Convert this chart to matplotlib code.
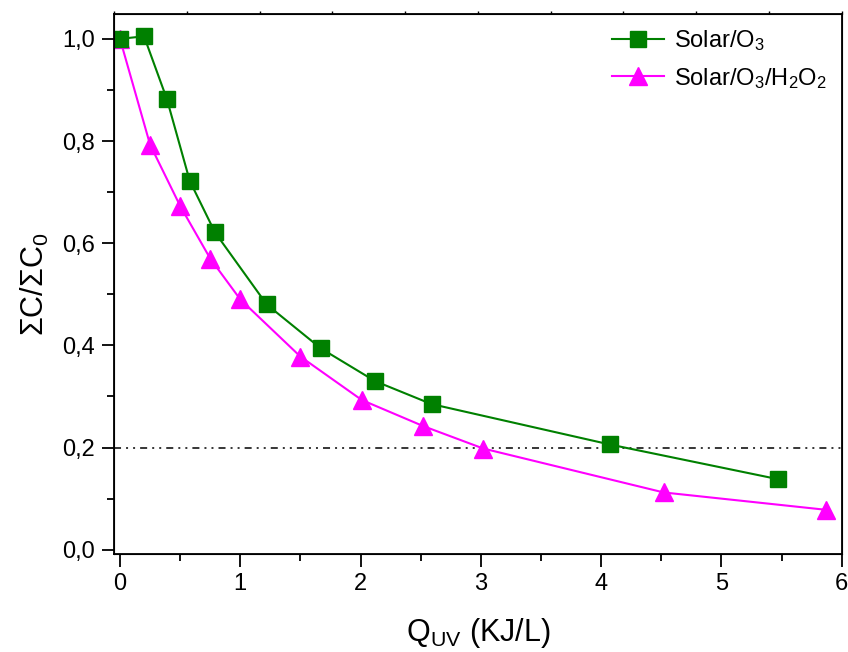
import numpy as np
import matplotlib
matplotlib.use('Agg')
import matplotlib.pyplot as plt
from matplotlib.ticker import MultipleLocator

plt.rcParams['font.family'] = ['Liberation Sans', 'DejaVu Sans']
plt.rcParams['mathtext.fontset'] = 'custom'
plt.rcParams['mathtext.rm'] = 'Liberation Sans'
plt.rcParams['mathtext.it'] = 'Liberation Sans:italic'

# data
q_o3 = [0.0, 0.20, 0.39, 0.58, 0.79, 1.22, 1.67, 2.12, 2.59, 4.07, 5.47]
c_o3 = [1.0, 1.005, 0.882, 0.722, 0.621, 0.480, 0.394, 0.330, 0.285, 0.206, 0.138]
q_h2o2 = [0.0, 0.25, 0.50, 0.75, 1.00, 1.50, 2.01, 2.52, 3.02, 4.52, 5.87]
c_h2o2 = [1.0, 0.793, 0.673, 0.570, 0.490, 0.378, 0.293, 0.242, 0.198, 0.112, 0.078]
target = 0.2

fig = plt.figure(figsize=(8.48, 6.52), dpi=100)
ax = fig.add_axes([0.1344, 0.1503, 0.8582, 0.8277])

ax.axhline(target, color='k', lw=1.1, ls=(0, (4.6, 3.3, 1.3, 3.3, 1.3, 3.3)), zorder=1)
ax.plot(q_o3, c_o3, color='#008000', lw=1.5, marker='s', ms=11,
        label=r'Solar/O$_3$', zorder=3)
ax.plot(q_h2o2, c_h2o2, color='#FF00FF', lw=1.5, marker='^', ms=13,
        label=r'Solar/O$_3$/H$_2$O$_2$', zorder=2)

ax.set_xlim(-0.05, 6.0)
ax.set_ylim(-0.0085, 1.048)
ax.xaxis.set_major_locator(MultipleLocator(1))
ax.xaxis.set_minor_locator(MultipleLocator(0.5))
ax.yaxis.set_major_locator(MultipleLocator(0.2))
ax.yaxis.set_minor_locator(MultipleLocator(0.1))
ax.yaxis.set_major_formatter(plt.FuncFormatter(lambda v, p: ('%.1f' % v).replace('.', ',')))
ax.tick_params(which='major', direction='out', length=9, width=1.3, labelsize=17, pad=5)
ax.tick_params(which='minor', direction='out', length=5, width=1.3)
for s in ax.spines.values():
    s.set_linewidth(1.3)

# top axis ticks (unlabelled)
top = ax.twiny()
top.set_xlim(0, 10)
top.xaxis.set_major_locator(MultipleLocator(1))
top.tick_params(axis='x', direction='out', length=2.5, width=1, labeltop=False)

ax.set_xlabel(r'Q$_{\rm UV}$ (KJ/L)', fontsize=22, labelpad=15)
ax.set_ylabel(r'ΣC/ΣC$_0$', fontsize=22, labelpad=8)

leg = ax.legend(loc='upper left', bbox_to_anchor=(0.685, 0.975), frameon=False,
                fontsize=17, handlelength=2.2, handletextpad=0.4,
                borderaxespad=0, borderpad=0, labelspacing=0.55)

fig.savefig('out.png', dpi=100)
